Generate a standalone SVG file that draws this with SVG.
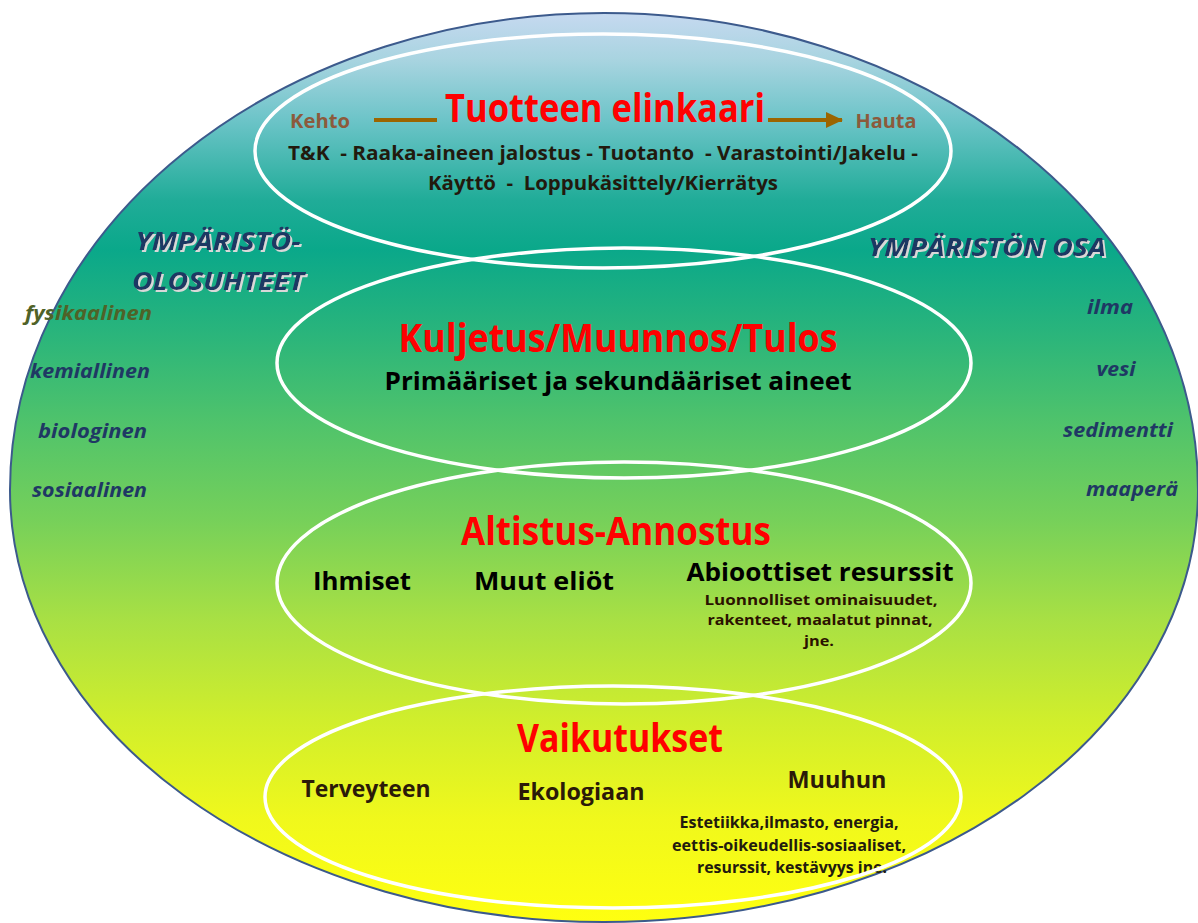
<svg xmlns="http://www.w3.org/2000/svg" width="1198" height="923" viewBox="0 0 1198 923">
<defs>
<linearGradient id="bg" gradientUnits="userSpaceOnUse" x1="0" y1="13" x2="0" y2="922">
<stop offset="0" stop-color="#c6d9f0"/>
<stop offset="0.052" stop-color="#a8d4e0"/>
<stop offset="0.118" stop-color="#6cc4c8"/>
<stop offset="0.206" stop-color="#20ac98"/>
<stop offset="0.26" stop-color="#0aa88a"/>
<stop offset="0.348" stop-color="#28b47c"/>
<stop offset="0.458" stop-color="#52c46a"/>
<stop offset="0.557" stop-color="#76d05a"/>
<stop offset="0.667" stop-color="#a8e044"/>
<stop offset="0.777" stop-color="#d0ee2c"/>
<stop offset="0.887" stop-color="#f0f81c"/>
<stop offset="1" stop-color="#ffff10"/>
</linearGradient>
<filter id="sh" x="-10%" y="-20%" width="130%" height="150%">
<feDropShadow dx="2" dy="2" stdDeviation="0.3" flood-color="#d8d8d8" flood-opacity="1"/>
</filter>
<marker id="ah" markerUnits="userSpaceOnUse" markerWidth="18" markerHeight="18" viewBox="0 0 18 18" refX="16" refY="9" orient="auto">
<polygon points="0,1 17,9 0,17" fill="#9c6500"/>
</marker>
</defs>
<style>
.t{font-family:"Open Sans","Noto Sans","Liberation Sans",sans-serif;font-weight:bold}
.red{fill:#ff0000;font-size:39px}
.blk{fill:#000;font-size:25px}
.brn{fill:#2b1a08;font-size:24px}
.sm{fill:#2b1200;font-size:15px}
.sm2{fill:#221a0e;font-size:16px}
.tk{fill:#221a0e;font-size:20px}
.kh{fill:#8c5a3c;font-size:20px}
.it{font-style:italic;fill:#1f3864;font-size:20px}
.hd{font-style:italic;fill:#1f3864;font-size:25px}
.wl{fill:none;stroke:#ffffff;stroke-width:3.5}
.cn{stroke:#9c6500;stroke-width:4;fill:none}
</style>
<g id="outer">
<path d="M 10 490 A 594 477 0 0 1 1198 490 A 594 432 0 0 1 10 490 Z" fill="url(#bg)" stroke="#3c5a8c" stroke-width="2"/>
</g>
<g id="ympäristö-olosuhteet">
<text class="t hd" x="218" y="250" text-anchor="middle" textLength="165" lengthAdjust="spacingAndGlyphs" filter="url(#sh)">YMPÄRISTÖ-</text>
<text class="t hd" x="218" y="290" text-anchor="middle" textLength="172" lengthAdjust="spacingAndGlyphs" filter="url(#sh)">OLOSUHTEET</text>
<text class="t it" x="152" y="320" text-anchor="end" textLength="127" lengthAdjust="spacingAndGlyphs" style="fill:#4f6228">fysikaalinen</text>
<text class="t it" x="150" y="378" text-anchor="end" textLength="120" lengthAdjust="spacingAndGlyphs">kemiallinen</text>
<text class="t it" x="147" y="438" text-anchor="end" textLength="109" lengthAdjust="spacingAndGlyphs">biologinen</text>
<text class="t it" x="147" y="497" text-anchor="end" textLength="115" lengthAdjust="spacingAndGlyphs">sosiaalinen</text>
</g>
<g id="ympäristön-osa">
<text class="t hd" x="987" y="256" text-anchor="middle" textLength="238" lengthAdjust="spacingAndGlyphs" filter="url(#sh)">YMPÄRISTÖN OSA</text>
<text class="t it" x="1110" y="314" text-anchor="middle" textLength="46" lengthAdjust="spacingAndGlyphs">ilma</text>
<text class="t it" x="1116" y="376" text-anchor="middle" textLength="39" lengthAdjust="spacingAndGlyphs">vesi</text>
<text class="t it" x="1118" y="437" text-anchor="middle" textLength="110" lengthAdjust="spacingAndGlyphs">sedimentti</text>
<text class="t it" x="1132" y="496" text-anchor="middle" textLength="92" lengthAdjust="spacingAndGlyphs">maaperä</text>
</g>
<g id="elinkaari">
<ellipse class="wl" cx="603" cy="151" rx="348" ry="117"/>
<text class="t red" x="605" y="122" text-anchor="middle" textLength="320" lengthAdjust="spacingAndGlyphs">Tuotteen elinkaari</text>
<text class="t kh" x="320" y="128" text-anchor="middle" textLength="60" lengthAdjust="spacingAndGlyphs">Kehto</text>
<text class="t kh" x="886" y="128" text-anchor="middle" textLength="61" lengthAdjust="spacingAndGlyphs">Hauta</text>
<text class="t tk" x="603" y="160" text-anchor="middle" textLength="630" lengthAdjust="spacingAndGlyphs" xml:space="preserve">T&amp;K  - Raaka-aineen jalostus - Tuotanto  - Varastointi/Jakelu -</text>
<text class="t tk" x="603" y="190" text-anchor="middle" textLength="350" lengthAdjust="spacingAndGlyphs" xml:space="preserve">Käyttö  -  Loppukäsittely/Kierrätys</text>
</g>
<g id="kuljetus">
<ellipse class="wl" cx="624" cy="363" rx="347" ry="115"/>
<text class="t red" x="618" y="352" text-anchor="middle" textLength="439" lengthAdjust="spacingAndGlyphs">Kuljetus/Muunnos/Tulos</text>
<text class="t blk" x="618" y="390" text-anchor="middle" textLength="467" lengthAdjust="spacingAndGlyphs">Primääriset ja sekundääriset aineet</text>
</g>
<g id="altistus">
<ellipse class="wl" cx="624" cy="583" rx="347" ry="121"/>
<text class="t red" x="616" y="545" text-anchor="middle" textLength="310" lengthAdjust="spacingAndGlyphs">Altistus-Annostus</text>
<text class="t blk" x="362" y="590" text-anchor="middle" textLength="98" lengthAdjust="spacingAndGlyphs">Ihmiset</text>
<text class="t blk" x="544" y="590" text-anchor="middle" textLength="140" lengthAdjust="spacingAndGlyphs">Muut eliöt</text>
<text class="t blk" x="820" y="581" text-anchor="middle" textLength="267" lengthAdjust="spacingAndGlyphs">Abioottiset resurssit</text>
<text class="t sm" x="821" y="605" text-anchor="middle" textLength="233" lengthAdjust="spacingAndGlyphs">Luonnolliset ominaisuudet,</text>
<text class="t sm" x="820" y="625" text-anchor="middle" textLength="225" lengthAdjust="spacingAndGlyphs">rakenteet, maalatut pinnat,</text>
<text class="t sm" x="819" y="646" text-anchor="middle" textLength="30" lengthAdjust="spacingAndGlyphs">jne.</text>
</g>
<g id="vaikutukset">
<text class="t red" x="620" y="752" text-anchor="middle" textLength="206" lengthAdjust="spacingAndGlyphs">Vaikutukset</text>
<text class="t brn" x="366" y="797" text-anchor="middle" textLength="129" lengthAdjust="spacingAndGlyphs">Terveyteen</text>
<text class="t brn" x="581" y="800" text-anchor="middle" textLength="127" lengthAdjust="spacingAndGlyphs">Ekologiaan</text>
<text class="t brn" x="837" y="788" text-anchor="middle" textLength="99" lengthAdjust="spacingAndGlyphs">Muuhun</text>
<text class="t sm2" x="789" y="828" text-anchor="middle" textLength="219" lengthAdjust="spacingAndGlyphs">Estetiikka,ilmasto, energia,</text>
<text class="t sm2" x="789" y="851" text-anchor="middle" textLength="234" lengthAdjust="spacingAndGlyphs">eettis-oikeudellis-sosiaaliset,</text>
<text class="t sm2" x="792" y="873" text-anchor="middle" textLength="190" lengthAdjust="spacingAndGlyphs">resurssit, kestävyys jne.</text>
<ellipse class="wl" cx="613" cy="797" rx="348" ry="111"/>
</g>
<g id="connectors">
<line class="cn" x1="374" y1="120" x2="437" y2="120"/>
<line class="cn" x1="768" y1="120" x2="842" y2="120" marker-end="url(#ah)"/>
</g>
</svg>
